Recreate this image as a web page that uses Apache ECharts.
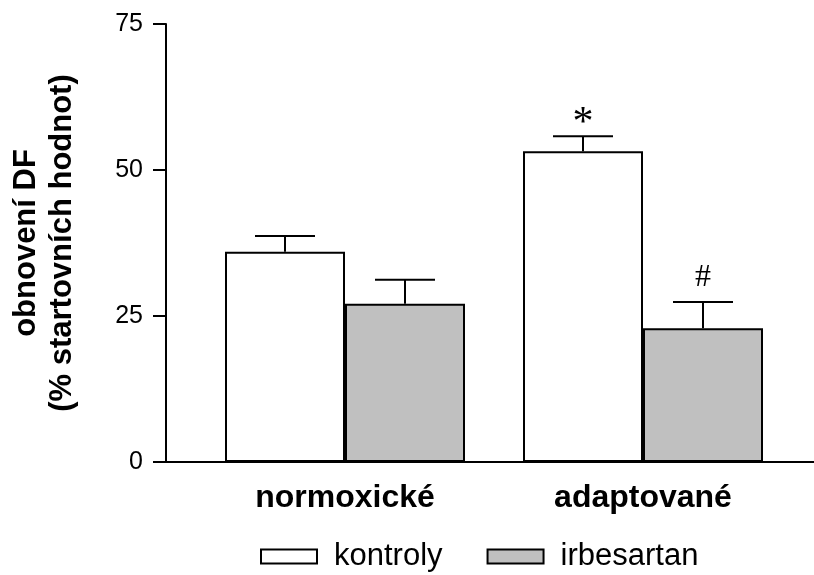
<!DOCTYPE html>
<html>
<head>
<meta charset="utf-8">
<script src="https://cdn.jsdelivr.net/npm/echarts@6/dist/echarts.min.js"></script>
<style>
  html, body { margin: 0; padding: 0; background: #fff; }
  #chart { width: 814px; height: 575px; }
</style>
</head>
<body>
<div id="chart"></div>
<script>
// data
var categories = ['normoxické', 'adaptované'];
var seriesNames = ['kontroly', 'irbesartan'];
var kontroly = [36.0, 53.2];
var irbesartan = [27.1, 22.9];
var kontrolyErr = [2.7, 2.6];
var irbesartanErr = [4.1, 4.5];
var kontrolyMarks = ['', '*'];
var irbesartanMarks = ['', '#'];
var yTicks = [0, 25, 50, 75];

var FONT = 'Liberation Sans, Arial, sans-serif';
var BAR_W = 120;

var myChart = echarts.init(document.getElementById('chart'));

function errorSeries(means, errs, marks, side) {
    var data = means.map(function (m, i) {
        return [i, m, errs[i]];
    });
    return {
        type: 'custom',
        xAxisIndex: 0,
        yAxisIndex: 0,
        z: 5,
        silent: true,
        data: data,
        renderItem: function (params, api) {
            var i = api.value(0);
            var base = api.coord([i, api.value(1)]);
            var top = api.coord([i, api.value(1) + api.value(2)]);
            var x = base[0] + side * BAR_W / 2;
            var mark = marks[params.dataIndex];
            var children = [{
                type: 'line',
                shape: { x1: x, y1: base[1], x2: x, y2: top[1] },
                style: { stroke: '#000', lineWidth: 2 }
            }, {
                type: 'line',
                shape: { x1: x - 30, y1: top[1], x2: x + 30, y2: top[1] },
                style: { stroke: '#000', lineWidth: 2 }
            }];
            if (mark) {
                var star = mark === '*';
                children.push({
                    type: 'text',
                    x: x,
                    y: star ? top[1] - 12 : top[1] - 24,
                    style: {
                        text: mark,
                        fill: '#000',
                        align: 'center',
                        verticalAlign: 'middle',
                        font: star ? '42px Liberation Serif, serif' : '32px Liberation Serif, serif'
                    }
                });
            }
            return { type: 'group', children: children };
        }
    };
}

var option = {
    backgroundColor: '#fff',
    animation: false,
    textStyle: { fontFamily: FONT, color: '#000' },
    grid: [{
        left: 196, right: 22, top: 24, bottom: 113, outerBoundsMode: 'none'
    }, {
        left: 166, right: 0, top: 24, bottom: 113, outerBoundsMode: 'none'
    }],
    legend: {
        data: seriesNames,
        left: 255,
        top: 536,
        icon: 'rect',
        itemWidth: 56,
        itemHeight: 14,
        itemGap: 44,
        itemStyle: { borderColor: '#000', borderWidth: 2 },
        textStyle: { fontSize: 31, color: '#000', fontFamily: FONT, padding: [0, 0, 0, 12] }
    },
    xAxis: [{
        type: 'category',
        gridIndex: 0,
        data: categories,
        axisLine: { show: false },
        axisTick: { show: false },
        axisLabel: {
            margin: 20,
            fontSize: 32,
            fontWeight: 'bold',
            color: '#000',
            fontFamily: FONT
        }
    }, {
        type: 'value',
        gridIndex: 1,
        axisLine: { show: true, lineStyle: { color: '#000', width: 2 } },
        axisTick: { show: false },
        axisLabel: { show: false },
        splitLine: { show: false }
    }],
    yAxis: [{
        type: 'value',
        gridIndex: 0,
        min: yTicks[0],
        max: yTicks[yTicks.length - 1],
        interval: 25,
        offset: 30,
        name: 'obnovení DF\n(% startovních hodnot)',
        nameLocation: 'middle',
        nameRotate: 90,
        nameGap: 86,
        nameTextStyle: {
            fontSize: 31,
            fontWeight: 'bold',
            color: '#000',
            lineHeight: 36,
            fontFamily: FONT
        },
        axisLine: { show: true, lineStyle: { color: '#000', width: 2 } },
        axisTick: { show: true, length: 13, lineStyle: { color: '#000', width: 2 } },
        axisLabel: { fontSize: 25, color: '#000', margin: 23, fontFamily: FONT },
        splitLine: { show: false }
    }, {
        type: 'value',
        gridIndex: 1,
        show: false
    }],
    series: [{
        name: seriesNames[0],
        type: 'bar',
        xAxisIndex: 0,
        yAxisIndex: 0,
        barWidth: BAR_W,
        barGap: '0%',
        itemStyle: { color: '#ffffff', borderColor: '#000', borderWidth: 2 },
        data: kontroly
    }, {
        name: seriesNames[1],
        type: 'bar',
        xAxisIndex: 0,
        yAxisIndex: 0,
        barWidth: BAR_W,
        barGap: '0%',
        itemStyle: { color: '#c0c0c0', borderColor: '#000', borderWidth: 2 },
        data: irbesartan
    },
    errorSeries(kontroly, kontrolyErr, kontrolyMarks, -1),
    errorSeries(irbesartan, irbesartanErr, irbesartanMarks, 1)
    ]
};

myChart.setOption(option);
</script>
</body>
</html>
